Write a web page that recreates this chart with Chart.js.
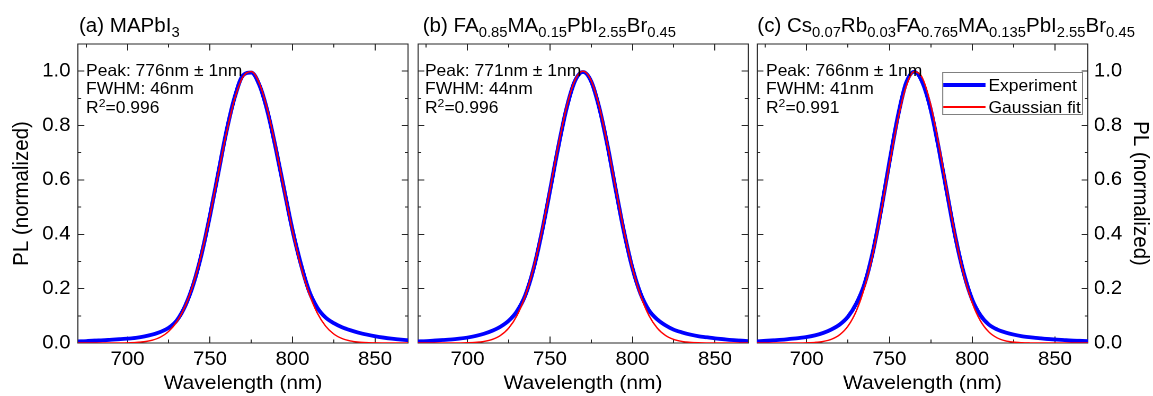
<!DOCTYPE html>
<html>
<head>
<meta charset="utf-8">
<script src="https://cdn.jsdelivr.net/npm/chart.js@4.4.1/dist/chart.umd.min.js"></script>
<style>
html, body { margin: 0; padding: 0; background: #fff; }
body { width: 1153px; height: 396px; overflow: hidden; position: relative; }
/* the reference glyphs are a bit wider than Arial, so the figure is laid out
   at 1088px and stretched horizontally to 1153px */
#fig { position: absolute; left: 0; top: 0; width: 1088px; height: 396px;
       transform-origin: 0 0; transform: scaleX(1.05974);
       font-family: "Liberation Sans", Arial, sans-serif; color: #000; }
#fig canvas { position: absolute; left: 0; top: 0; }
.t { position: absolute; white-space: nowrap; line-height: 1; }
.title { font-size: 19.4px; top: 15.5px; }
.note { font-size: 16.5px; }
.title sub { font-size: 72%; vertical-align: -5px; line-height: 0; }
.note sup { font-size: 70%; vertical-align: 6px; line-height: 0; }
.legend { position: absolute; left: 889px; top: 72px; width: 133px; height: 43px;
          border: 1px solid #808080; background: #fff; box-sizing: border-box; }
.legend .sw { position: absolute; left: 0; width: 40px; }
.legend .lt { position: absolute; left: 42.7px; font-size: 16.5px; line-height: 1; white-space: nowrap; }
</style>
</head>
<body>
<div id="fig">
  <canvas id="panelA" width="1088" height="396"></canvas>
  <canvas id="panelB" width="1088" height="396"></canvas>
  <canvas id="panelC" width="1088" height="396"></canvas>

  <div class="t title" style="left:74.5px">(a) MAPbI<sub>3</sub></div>
  <div class="t title" style="left:398.9px">(b) FA<sub>0.85</sub>MA<sub>0.15</sub>PbI<sub>2.55</sub>Br<sub>0.45</sub></div>
  <div class="t title" style="left:714.6px">(c) Cs<sub>0.07</sub>Rb<sub>0.03</sub>FA<sub>0.765</sub>MA<sub>0.135</sub>PbI<sub>2.55</sub>Br<sub>0.45</sub></div>

  <div class="t note" style="left:81.2px;top:62px">Peak: 776nm ± 1nm</div>
  <div class="t note" style="left:81.2px;top:80px">FWHM: 46nm</div>
  <div class="t note" style="left:81.2px;top:99px">R<sup>2</sup>=0.996</div>

  <div class="t note" style="left:401px;top:62px">Peak: 771nm ± 1nm</div>
  <div class="t note" style="left:401px;top:80px">FWHM: 44nm</div>
  <div class="t note" style="left:401px;top:99px">R<sup>2</sup>=0.996</div>

  <div class="t note" style="left:722.8px;top:62px">Peak: 766nm ± 1nm</div>
  <div class="t note" style="left:722.8px;top:80px">FWHM: 41nm</div>
  <div class="t note" style="left:722.8px;top:99px">R<sup>2</sup>=0.991</div>

  <div class="legend">
    <div class="sw" style="top:10px;height:4px;background:#0000ff"></div>
    <div class="lt" id="lgExp" style="top:3.9px"></div>
    <div class="sw" style="top:33px;height:1.5px;background:#ff0000"></div>
    <div class="lt" id="lgFit" style="top:25.6px"></div>
  </div>
</div>

<script>
// wavelength grid (nm) shared by every curve
const wavelengths = [670, 675, 680, 685, 690, 695, 700, 705, 710, 715,
                     720, 725, 730, 735, 740, 745, 750, 755, 760, 765,
                     770, 775, 780, 785, 790, 795, 800, 805, 810, 815,
                     820, 825, 830, 835, 840, 845, 850, 855, 860, 865, 870];

// (a) MAPbI3
const expA = [0.006, 0.007, 0.009, 0.010, 0.012, 0.014, 0.016, 0.019, 0.024, 0.031,
              0.041, 0.056, 0.084, 0.137, 0.218, 0.330, 0.470, 0.625, 0.780, 0.905,
              0.985, 0.995, 0.948, 0.848, 0.712, 0.562, 0.415, 0.292, 0.192, 0.130,
              0.094, 0.073, 0.058, 0.047, 0.038, 0.031, 0.025, 0.020, 0.016, 0.013, 0.010];
const fitA = [0, 0, 0, 0, 0.0001, 0.0003, 0.0008, 0.002, 0.0047, 0.0104,
              0.0219, 0.043, 0.0791, 0.1363, 0.2199, 0.3322, 0.4701, 0.6231, 0.7735, 0.8993,
              0.9793, 0.9987, 0.9539, 0.8534, 0.7151, 0.5611, 0.4124, 0.2839, 0.183, 0.1105,
              0.0625, 0.0331, 0.0164, 0.0076, 0.0033, 0.0014, 0.0005, 0.0002, 0.0001, 0, 0];

// (b) FA0.85MA0.15PbI2.55Br0.45
const expB = [0.006, 0.007, 0.009, 0.011, 0.013, 0.016, 0.020, 0.026, 0.034, 0.045,
              0.060, 0.082, 0.117, 0.175, 0.272, 0.405, 0.560, 0.720, 0.862, 0.962,
              0.997, 0.962, 0.862, 0.722, 0.560, 0.405, 0.275, 0.180, 0.120, 0.087,
              0.065, 0.049, 0.039, 0.031, 0.025, 0.021, 0.017, 0.014, 0.011, 0.009, 0.007];
const fitB = [0, 0, 0, 0, 0.0001, 0.0003, 0.0009, 0.0024, 0.0058, 0.0131,
              0.0279, 0.055, 0.1011, 0.173, 0.2756, 0.4086, 0.5639, 0.7246, 0.8666, 0.9648,
              1.0, 0.9648, 0.8666, 0.7246, 0.5639, 0.4086, 0.2756, 0.173, 0.1011, 0.055,
              0.0279, 0.0131, 0.0058, 0.0024, 0.0009, 0.0003, 0.0001, 0, 0, 0, 0];

// (c) Cs0.07Rb0.03FA0.765MA0.135PbI2.55Br0.45
const expC = [0.006, 0.008, 0.010, 0.012, 0.015, 0.018, 0.022, 0.028, 0.037, 0.050,
              0.068, 0.097, 0.145, 0.218, 0.335, 0.490, 0.665, 0.830, 0.955, 0.998,
              0.958, 0.858, 0.710, 0.545, 0.385, 0.255, 0.160, 0.102, 0.068, 0.050,
              0.039, 0.031, 0.025, 0.021, 0.018, 0.015, 0.013, 0.011, 0.009, 0.008, 0.007];
const fitC = [0, 0, 0, 0, 0.0001, 0.0002, 0.0008, 0.0022, 0.0057, 0.0137,
              0.0305, 0.0625, 0.1179, 0.2049, 0.3279, 0.4832, 0.6556, 0.8191, 0.9423, 0.9984,
              0.974, 0.8749, 0.7238, 0.5513, 0.3867, 0.2498, 0.1486, 0.0814, 0.0411, 0.0191,
              0.0081, 0.0032, 0.0012, 0.0004, 0.0001, 0, 0, 0, 0, 0, 0];

const seriesNames = ['Experiment', 'Gaussian fit'];
const xMajorTicks = [700, 750, 800, 850];
const xMinorTicks = [675, 725, 775, 825];
const yMajorTicks = [0, 0.2, 0.4, 0.6, 0.8, 1.0];
const yMinorTicks = [0.1, 0.3, 0.5, 0.7, 0.9];
const xTitle = 'Wavelength (nm)';
const yTitle = 'PL (normalized)';

const xMin = 670, xMax = 870, yMin = 0, yMax = 1.1;
const W = 1088;
const FONT = "'Liberation Sans', Arial, sans-serif";
const INK = '#262626';

document.getElementById('lgExp').textContent = seriesNames[0];
document.getElementById('lgFit').textContent = seriesNames[1];

// one edge of the frame: inward tick marks only, no room taken in the layout
function edgeAxis(position, ticks, len, withBorder) {
    const horizontal = position === 'top' || position === 'bottom';
    return {
        type: 'linear',
        position: position,
        weight: 0,
        min: horizontal ? xMin : yMin,
        max: horizontal ? xMax : yMax,
        afterBuildTicks: s => { s.ticks = ticks.map(v => ({ value: v })); },
        afterFit: s => { if (horizontal) s.height = 0; else s.width = 0; },
        grid: { drawOnChartArea: false, drawTicks: true, tickLength: len, tickColor: INK, tickWidth: 1 },
        border: { display: withBorder, color: INK, width: 1 },
        ticks: { display: false }
    };
}

function makePanel(id, exp, fit, side, plotLeft, plotRight) {
    const xAxis = edgeAxis('bottom', xMajorTicks, -6.5, true);
    xAxis.weight = 1;
    xAxis.afterFit = s => { s.height = 53; };
    xAxis.ticks = {
        display: true, padding: 11.7, maxRotation: 0, color: '#000',
        font: { family: FONT, size: 19.2 },
        callback: v => String(v)
    };
    xAxis.title = {
        display: true, text: xTitle, color: '#000',
        font: { family: FONT, size: 19.8 }, padding: { top: 0, bottom: 0.4 }
    };

    const yLeft = edgeAxis('left', yMajorTicks, -6, true);
    const yRight = edgeAxis('right', yMajorTicks, -6, true);
    let padLeft = plotLeft, padRight = W - plotRight;
    if (side === 'left') {
        padLeft = 8.5;
        yLeft.weight = 1;
        yLeft.afterFit = s => { s.width = plotLeft - 8.5; };
    }
    if (side === 'right') {
        padRight = 0;
        yRight.weight = 1;
        yRight.afterFit = s => { s.width = W - plotRight; };
    }
    const labelled = side === 'left' ? yLeft : (side === 'right' ? yRight : null);
    if (labelled) {
        labelled.ticks = {
            display: true, padding: side === 'left' ? 13.1 : 11.6, color: '#000',
            font: { family: FONT, size: 19.2 },
            callback: v => v.toFixed(1)
        };
        labelled.title = {
            display: true, text: yTitle, color: '#000',
            font: { family: FONT, size: 20.5 }, padding: { top: 0, bottom: 0 }
        };
    }

    return new Chart(document.getElementById(id), {
        type: 'line',
        data: {
            labels: wavelengths,
            datasets: [
                { label: seriesNames[0], data: exp, borderColor: '#0000ff', borderWidth: 3.8,
                  order: 1, xAxisID: 'x', yAxisID: 'y' },
                { label: seriesNames[1], data: fit, borderColor: '#ff0000', borderWidth: 1.4,
                  order: 0, xAxisID: 'x', yAxisID: 'y' }
            ]
        },
        options: {
            responsive: false,
            animation: false,
            devicePixelRatio: 2,
            layout: { padding: { left: padLeft, right: padRight, top: 44, bottom: 0 } },
            elements: {
                point: { radius: 0, hoverRadius: 0 },
                line: { cubicInterpolationMode: 'monotone', fill: false, borderJoinStyle: 'round' }
            },
            plugins: { legend: { display: false }, tooltip: { enabled: false } },
            scales: {
                x: xAxis,
                xMinor: edgeAxis('bottom', xMinorTicks, -3.5, false),
                xTop: edgeAxis('top', xMajorTicks, -6.5, true),
                xTopMinor: edgeAxis('top', xMinorTicks, -3.5, false),
                y: yLeft,
                yMinor: edgeAxis('left', yMinorTicks, -3, false),
                yRight: yRight,
                yRightMinor: edgeAxis('right', yMinorTicks, -3, false)
            }
        }
    });
}

makePanel('panelA', expA, fitA, 'left', 73.6, 385.0);
makePanel('panelB', expB, fitB, 'none', 394.4, 705.8);
makePanel('panelC', expC, fitC, 'right', 714.3, 1026.7);
</script>
</body>
</html>
